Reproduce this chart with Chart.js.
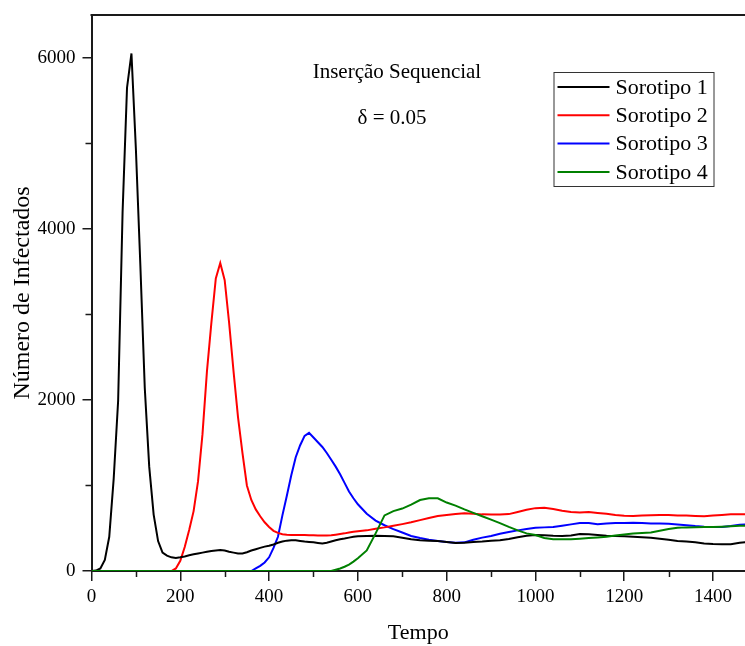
<!DOCTYPE html>
<html>
<head>
<meta charset="utf-8">
<script src="https://cdn.jsdelivr.net/npm/chart.js@4/dist/chart.umd.min.js"></script>
<style>
  html, body { margin: 0; padding: 0; background: #fff; }
  #wrap { width: 745px; height: 646px; }
</style>
</head>
<body>
<div id="wrap"><canvas id="chart"></canvas></div>
<script>
const tempo = [
  0, 10, 20, 30, 40, 50, 60, 70, 80, 90,
  100, 110, 120, 130, 140, 150, 160, 170, 180, 190,
  200, 210, 220, 230, 240, 250, 260, 270, 280, 290,
  300, 310, 320, 330, 340, 350, 360, 370, 380, 390,
  400, 410, 420, 430, 440, 450, 460, 470, 480, 490,
  500, 510, 520, 530, 540, 550, 560, 570, 580, 590,
  600,
  620, 640, 660, 680, 700, 720, 740, 760, 780, 800,
  820, 840, 860, 880, 900, 920, 940, 960, 980, 1000,
  1020, 1040, 1060, 1080, 1100, 1120, 1140, 1160, 1180, 1200,
  1220, 1240, 1260, 1280, 1300, 1320, 1340, 1360, 1380, 1400,
  1420, 1440, 1460, 1480
];

const sorotipo1 = [
  0, 5, 30, 130, 400, 1080, 1990, 4190, 5650, 6050,
  4930, 3580, 2140, 1220, 660, 350, 215, 180, 160, 153,
  160, 170, 185, 195, 205, 215, 225, 235, 240, 245,
  240, 225, 215, 205, 205, 220, 240, 255, 270, 285,
  295, 310, 330, 345, 355, 360, 360, 352, 345, 340,
  335, 328, 322, 330, 345, 360, 372, 380, 390, 400,
  407,
  410, 412, 410, 405, 390, 372, 360, 355, 350, 340,
  328, 330, 340, 345, 355, 360, 375, 395, 412, 420,
  418, 412, 410, 415, 432, 430, 420, 412, 408, 405,
  400, 395, 390, 378, 365, 352, 345, 335, 322, 315,
  312, 313, 330, 342
];

const sorotipo2 = [
  0, 0, 0, 0, 0, 0, 0, 0, 0, 0,
  0, 0, 0, 0, 0, 0, 0, 0, 0, 30,
  120, 280, 480, 700, 1050, 1600, 2330, 2900, 3420, 3600,
  3400, 2900, 2330, 1800, 1380, 1000, 830, 720, 640, 570,
  515, 470, 445, 430, 425, 422, 420, 420, 420, 418,
  418, 416, 415, 416, 418, 425, 432, 440, 450, 458,
  465,
  475, 495, 510, 528, 548, 570, 595, 620, 643, 655,
  665, 675, 670, 662, 660, 660, 665, 690, 715, 735,
  738, 725, 705, 690, 685, 690, 678, 668, 655, 645,
  643, 648, 652, 655, 655, 650, 648, 643, 640, 648,
  655, 662, 663, 663
];

const sorotipo3 = [
  0, 0, 0, 0, 0, 0, 0, 0, 0, 0,
  0, 0, 0, 0, 0, 0, 0, 0, 0, 0,
  0, 0, 0, 0, 0, 0, 0, 0, 0, 0,
  0, 0, 0, 0, 0, 0, 0, 30, 60, 100,
  160, 270, 400, 650, 880, 1120, 1330, 1470, 1580, 1615,
  1560, 1505, 1450, 1380, 1300, 1220, 1130, 1030, 930, 850,
  780,
  670, 590, 535, 490, 450, 410, 385, 365, 350, 338,
  330, 335, 365, 390, 410, 435, 455, 475, 490, 505,
  510, 515, 530, 545, 560, 560, 548, 555, 560, 562,
  565, 560, 555, 555, 552, 545, 535, 525, 518, 515,
  515, 525, 540, 548
];

const sorotipo4 = [
  0, 0, 0, 0, 0, 0, 0, 0, 0, 0,
  0, 0, 0, 0, 0, 0, 0, 0, 0, 0,
  0, 0, 0, 0, 0, 0, 0, 0, 0, 0,
  0, 0, 0, 0, 0, 0, 0, 0, 0, 0,
  0, 0, 0, 0, 0, 0, 0, 0, 0, 0,
  0, 0, 0, 0, 0, 15, 30, 50, 75, 110,
  150,
  240, 440, 650, 700, 730, 775, 830, 850, 850, 800,
  765, 720, 680, 640, 600, 560, 515, 475, 440, 420,
  385, 370, 370, 372, 378, 385, 392, 400, 415, 428,
  438, 445, 450, 470, 490, 505, 510, 512, 515, 515,
  518, 522, 528, 532
];

const seriesNames = ['Sorotipo 1', 'Sorotipo 2', 'Sorotipo 3', 'Sorotipo 4'];
const seriesColors = ['#000000', '#ff0000', '#0000ff', '#008000'];
const xTicks = [0, 200, 400, 600, 800, 1000, 1200, 1400];
const yTicks = [0, 2000, 4000, 6000];
const xTicksMinor = [100, 300, 500, 700, 900, 1100, 1300];
const yTicksMinor = [1000, 3000, 5000];

const FONT = '"Liberation Serif", "Times New Roman", serif';
const AXIS = '#1a1a1a';

function points(values) {
  return tempo.map((t, i) => ({ x: t, y: values[i] }));
}

// top frame line + short minor ticks
const framePlugin = {
  id: 'frame',
  afterDraw(chart) {
    const { ctx, chartArea } = chart;
    const xs = chart.scales.x, ys = chart.scales.y;
    ctx.save();
    ctx.strokeStyle = AXIS;
    ctx.lineWidth = 2;
    ctx.beginPath();
    ctx.moveTo(chartArea.left - 1, chartArea.top);
    ctx.lineTo(chartArea.right, chartArea.top);
    ctx.stroke();
    ctx.lineWidth = 1.5;
    ctx.beginPath();
    xTicksMinor.forEach((v) => {
      const px = Math.round(xs.getPixelForValue(v)) + 0.5;
      ctx.moveTo(px, chartArea.bottom);
      ctx.lineTo(px, chartArea.bottom + 6);
    });
    yTicksMinor.forEach((v) => {
      const py = Math.round(ys.getPixelForValue(v)) + 0.5;
      ctx.moveTo(chartArea.left, py);
      ctx.lineTo(chartArea.left - 6, py);
    });
    ctx.stroke();
    ctx.restore();
  },
};

// legend box and the two notes inside the plot
const notesPlugin = {
  id: 'notes',
  afterDraw(chart) {
    const { ctx, chartArea } = chart;
    const xs = chart.scales.x, ys = chart.scales.y;
    ctx.save();
    ctx.fillStyle = '#000';
    ctx.font = '21px ' + FONT;
    ctx.textAlign = 'center';
    ctx.textBaseline = 'middle';
    ctx.fillText('Inserção Sequencial', xs.getPixelForValue(688), ys.getPixelForValue(5830));
    ctx.fillText('δ = 0.05', xs.getPixelForValue(677), ys.getPixelForValue(5290));

    const bx = chartArea.left + 462, by = chartArea.top + 57;
    const bw = 160, bh = 114, row = 28.3;
    ctx.strokeStyle = '#333';
    ctx.lineWidth = 1;
    ctx.strokeRect(bx + 0.5, by + 0.5, bw, bh);
    ctx.font = '22px ' + FONT;
    ctx.textAlign = 'left';
    chart.data.datasets.forEach((ds, i) => {
      const y = by + 15 + i * row;
      ctx.strokeStyle = ds.borderColor;
      ctx.lineWidth = 2;
      ctx.beginPath();
      ctx.moveTo(bx + 4, y);
      ctx.lineTo(bx + 56, y);
      ctx.stroke();
      ctx.fillStyle = '#000';
      ctx.fillText(ds.label, bx + 62, y + 1);
    });
    ctx.restore();
  },
};

const ctx = document.getElementById('chart').getContext('2d');
new Chart(ctx, {
  type: 'line',
  data: {
    datasets: seriesNames.map((name, i) => ({
      label: name,
      data: points([sorotipo1, sorotipo2, sorotipo3, sorotipo4][i]),
      borderColor: seriesColors[i],
      borderWidth: 2,
      pointRadius: 0,
      tension: 0,
      fill: false,
      order: i === 3 ? -1 : i,
    })),
  },
  options: {
    responsive: true,
    maintainAspectRatio: false,
    animation: false,
    layout: { padding: { top: 15, right: 0, bottom: 0, left: 0 } },
    plugins: {
      legend: { display: false },
      tooltip: { enabled: false },
    },
    scales: {
      x: {
        type: 'linear',
        min: 0,
        max: 1472,
        afterBuildTicks: (s) => { s.ticks = xTicks.map((v) => ({ value: v })); },
        afterFit: (s) => { s.height = 75; s.paddingLeft = 0; s.paddingRight = 0; },
        border: { display: true, color: AXIS, width: 2 },
        grid: { drawOnChartArea: false, drawTicks: true, tickLength: 10, color: AXIS, lineWidth: 1.5 },
        ticks: {
          color: '#000',
          padding: 5,
          maxRotation: 0,
          autoSkip: false,
          callback: (v) => String(v),
          font: { family: FONT, size: 19 },
        },
        title: {
          display: true,
          text: 'Tempo',
          color: '#000',
          font: { family: FONT, size: 22 },
          padding: { top: 0, bottom: 0 },
        },
      },
      y: {
        min: 0,
        max: 6500,
        afterBuildTicks: (s) => { s.ticks = yTicks.map((v) => ({ value: v })); },
        afterFit: (s) => { s.width = 91.5; s.paddingTop = 0; s.paddingBottom = 0; },
        border: { display: true, color: AXIS, width: 2 },
        grid: { drawOnChartArea: false, drawTicks: true, tickLength: 9, color: AXIS, lineWidth: 1.5 },
        ticks: {
          color: '#000',
          padding: 7,
          autoSkip: false,
          callback: (v) => String(v),
          font: { family: FONT, size: 19 },
        },
        title: {
          display: true,
          text: 'Número de Infectados',
          color: '#000',
          font: { family: FONT, size: 24 },
          padding: { top: 8, bottom: 0 },
        },
      },
    },
  },
  plugins: [framePlugin, notesPlugin],
});
</script>
</body>
</html>
